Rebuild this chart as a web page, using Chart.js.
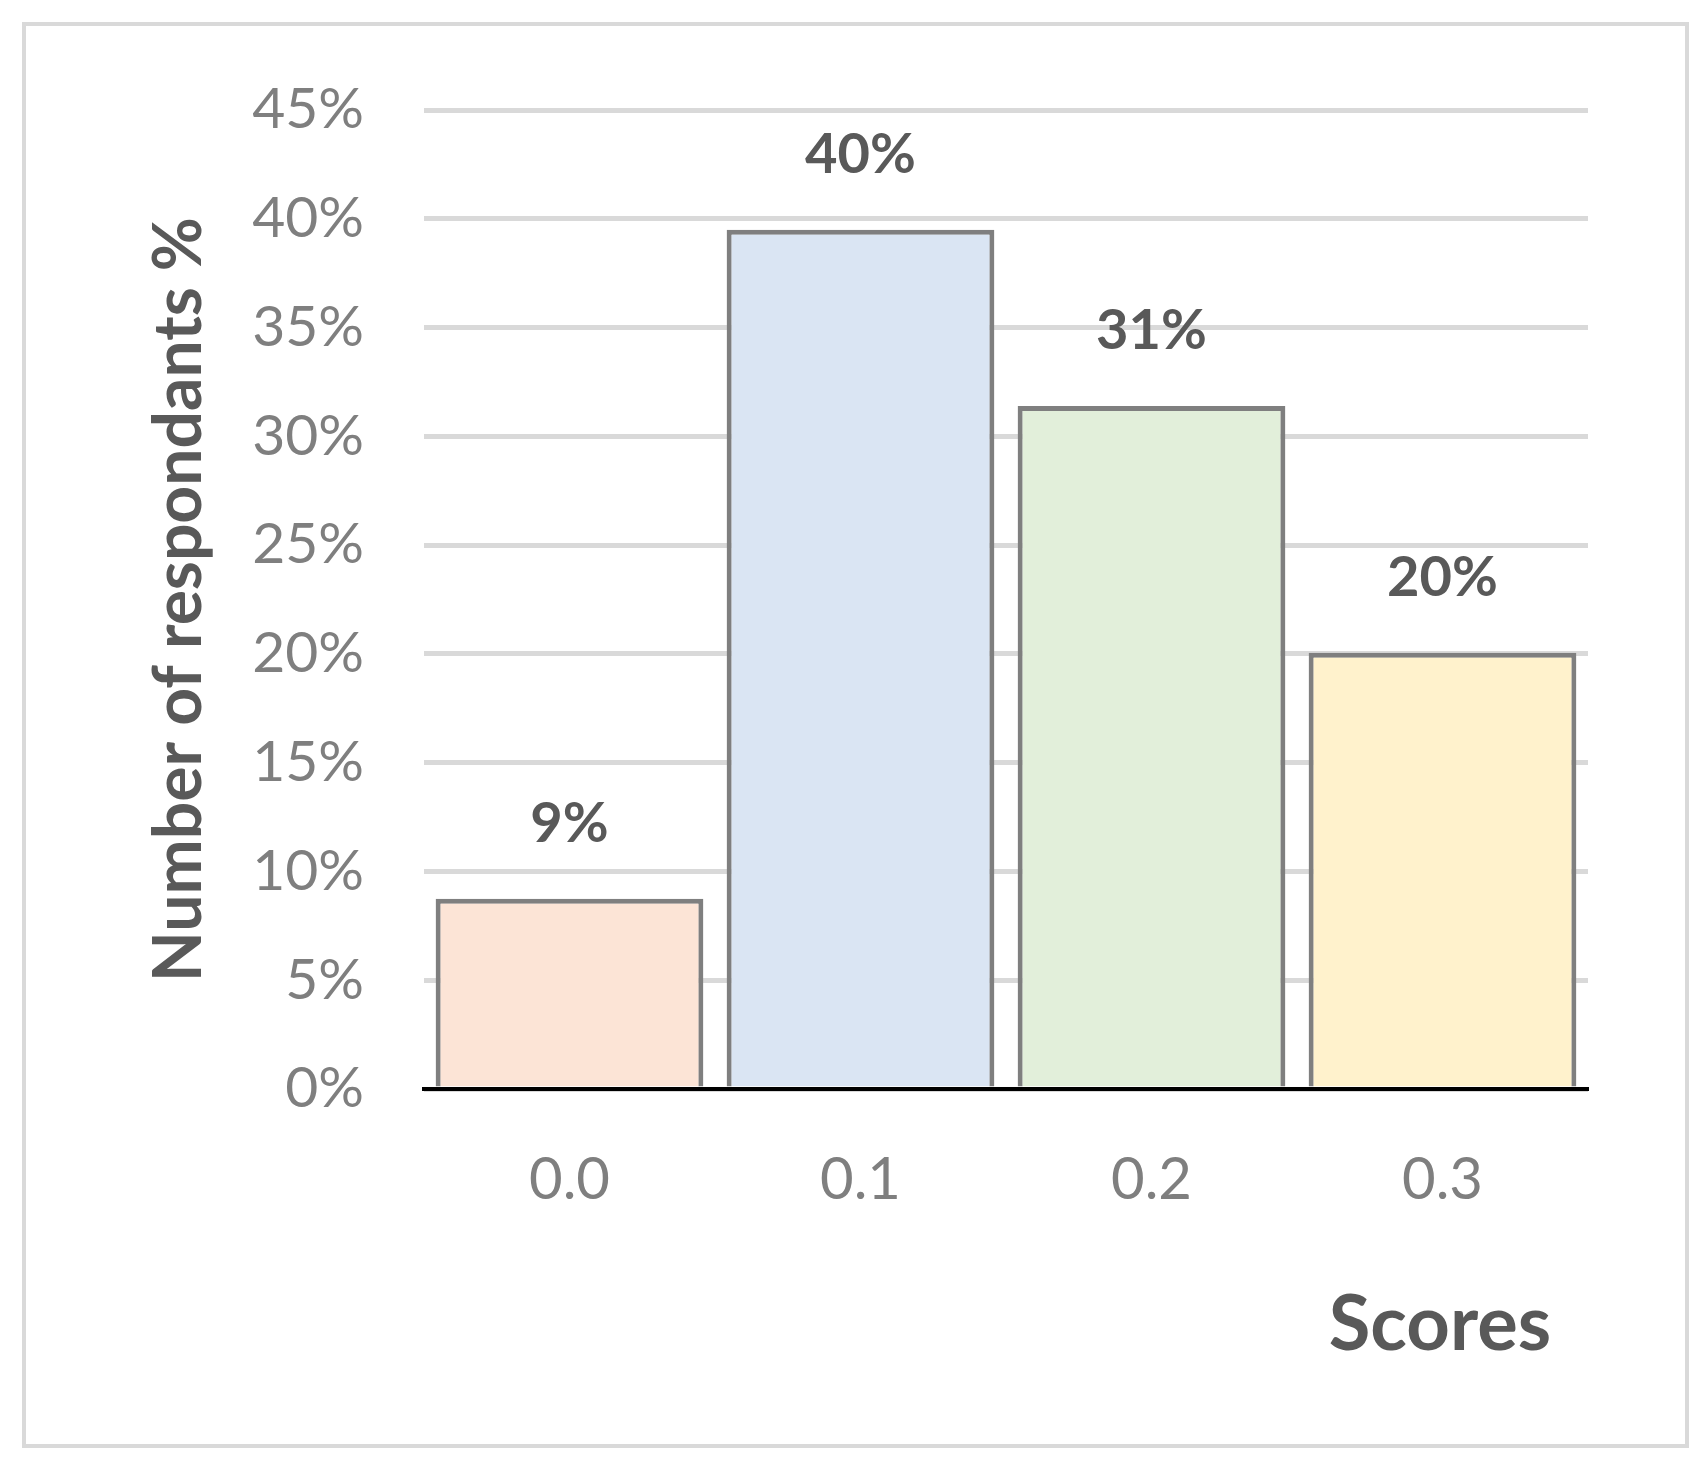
<!DOCTYPE html>
<html><head><meta charset="utf-8">
<script src="https://cdn.jsdelivr.net/npm/chart.js@4.4.0/dist/chart.umd.min.js"></script>
<style>html,body{margin:0;padding:0;background:#fff}canvas{display:block}</style>
</head><body>
<div style="width:1705px;height:1462px"><canvas id="c" width="1705" height="1462"></canvas></div>
<script>
const categories = ["0.0", "0.1", "0.2", "0.3"];
const values = [8.75, 39.5, 31.4, 20.05];
const labels = ["9%", "40%", "31%", "20%"];
const colors = ["#fce4d6", "#dae5f3", "#e2efda", "#fff2cc"];

const FONT = "Lato, 'Open Sans', sans-serif";
const extras = {
  id: 'extras',
  afterDraw(chart) {
    const ctx = chart.ctx;
    ctx.save();
    ctx.strokeStyle = '#d9d9d9'; ctx.lineWidth = 4;
    ctx.strokeRect(24, 24, 1663, 1422);
    const meta = chart.getDatasetMeta(0);
    ctx.fillStyle = '#595959';
    ctx.font = 'bold 56px ' + FONT;
    ctx.textAlign = 'center'; ctx.textBaseline = 'middle';
    meta.data.forEach((bar, i) => ctx.fillText(labels[i], bar.x, bar.y - 75));
    ctx.font = 'bold 76px ' + FONT;
    ctx.fillText('Scores', 1440, 1325);
    ctx.restore();
  }
};

new Chart(document.getElementById('c'), {
  type: 'bar',
  data: { labels: categories, datasets: [{ data: values, backgroundColor: colors, borderColor: '#7f7f7f', borderWidth: 5, barPercentage: 0.92, categoryPercentage: 1 }] },
  options: {
    responsive: false, animation: false, devicePixelRatio: 1,
    layout: { padding: { left: 140, top: 110, right: 117, bottom: 0 } },
    plugins: { legend: { display: false }, tooltip: { enabled: false } },
    scales: {
      x: {
        grid: { display: false },
        border: { color: '#000', width: 4 },
        ticks: { color: '#7f7f7f', font: { family: FONT, size: 58 }, padding: 48 },
        afterFit(s) { s.height = 373; }
      },
      y: {
        min: 0, max: 45,
        grid: { color: '#d9d9d9', lineWidth: 5, drawTicks: false },
        border: { display: false },
        ticks: { stepSize: 5, color: '#7f7f7f', font: { family: FONT, size: 57 }, padding: 60, callback: v => v + '%' },
        title: { display: true, text: 'Number of respondants %', color: '#595959', font: { family: FONT, size: 66, weight: 'bold' }, padding: 0 },
        afterFit(s) { s.width = 284; }
      }
    }
  },
  plugins: [extras]
});
</script>
</body></html>
